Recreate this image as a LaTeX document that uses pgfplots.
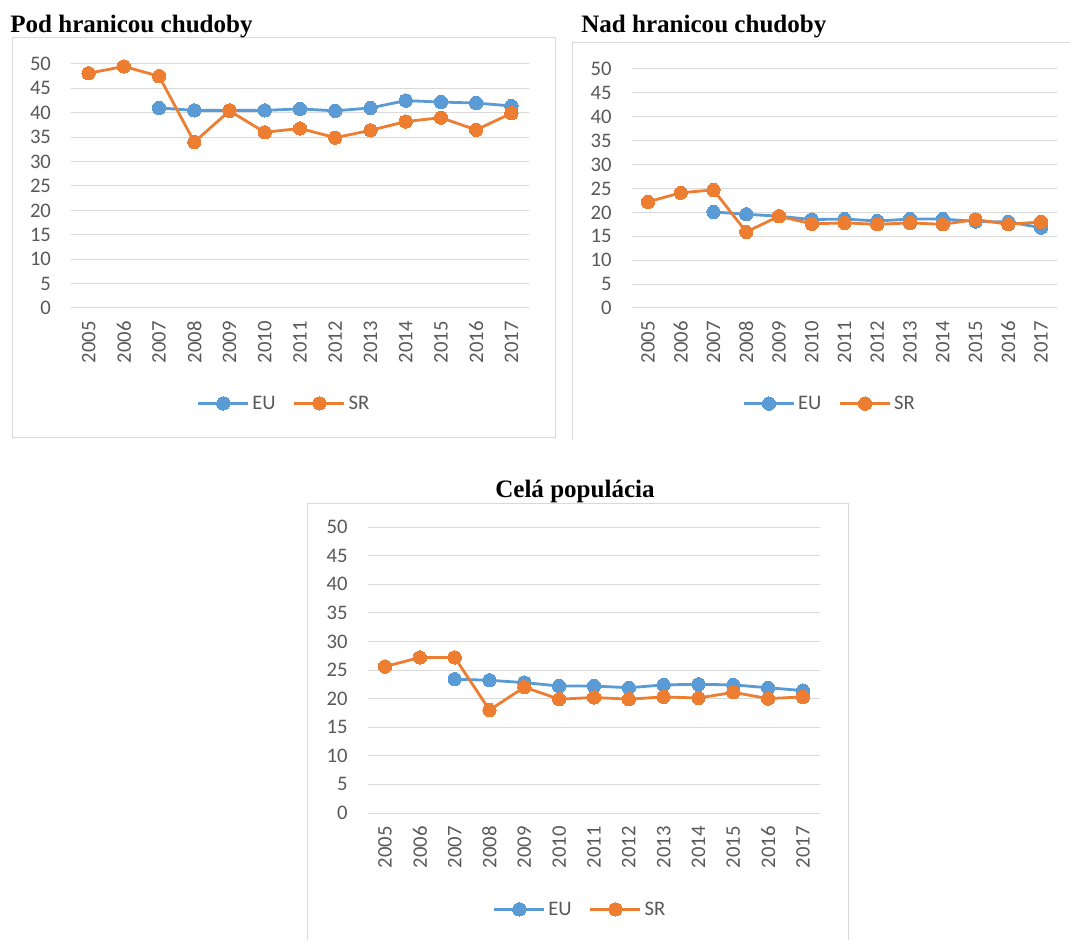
\documentclass[border=0pt]{standalone}
\usepackage{pgfplots}
\usepackage{pgfplotstable}
\pgfplotsset{compat=1.18}
\usepackage{fontspec}
\setmainfont{Carlito}
\newfontfamily\titlefont{Liberation Serif}

\definecolor{euBlue}{HTML}{5B9BD5}
\definecolor{srOrange}{HTML}{ED7D31}
\definecolor{gridGray}{HTML}{D9D9D9}
\definecolor{labelGray}{HTML}{595959}
\definecolor{frameGray}{HTML}{D9D9D9}

% x = index of year (0 = 2005 ... 12 = 2017)
\pgfplotstableread{
x  eu    sr
0  nan   48.1
1  nan   49.5
2  41.0  47.5
3  40.5  34.0
4  40.5  40.4
5  40.5  36.0
6  40.8  36.8
7  40.4  34.9
8  41.0  36.4
9  42.5  38.2
10 42.2  39.0
11 42.0  36.5
12 41.4  39.9
}\podTable

\pgfplotstableread{
x  eu    sr
0  nan   22.2
1  nan   24.1
2  20.1  24.7
3  19.6  15.9
4  19.2  19.2
5  18.5  17.6
6  18.6  17.8
7  18.2  17.5
8  18.6  17.8
9  18.6  17.5
10 18.1  18.5
11 18.0  17.5
12 16.8  18.0
}\nadTable

\pgfplotstableread{
x  eu    sr
0  nan   25.6
1  nan   27.2
2  23.4  27.2
3  23.2  18.0
4  22.8  22.0
5  22.2  19.9
6  22.2  20.2
7  21.9  19.9
8  22.4  20.3
9  22.5  20.1
10 22.4  21.1
11 21.9  20.0
12 21.4  20.3
}\celaTable

\pgfplotsset{
  panel/.style={
    scale only axis,
    clip=false,
    xmin=-0.5, xmax=12.5, ymin=0, ymax=50,
    xtick={0,...,12},
    xticklabels={2005,2006,2007,2008,2009,2010,2011,2012,2013,2014,2015,2016,2017},
    ytick={0,5,...,50},
    axis line style={draw=none},
    major tick length=0pt,
    ymajorgrids,
    grid style={gridGray, line width=0.75pt},
    /pgf/number format/assume math mode=true,
    tick label style={font=\fontsize{15.5}{17}\selectfont, text=labelGray},
    yticklabel style={anchor=east},
    yticklabel shift=11.5pt,
    xticklabel style={rotate=90, anchor=east},
    xticklabel shift=6.5pt,
    legend columns=2,
    legend style={draw=none, fill=none, anchor=center,
      font=\fontsize{15.5}{17}\selectfont, text=labelGray,
      /tikz/every even column/.append style={column sep=11pt}},
    legend image code/.code={
      \draw[mark repeat=2, mark phase=2] plot coordinates {(0pt,0pt) (18.75pt,0pt) (37.5pt,0pt)};
    },
  },
  eu/.style={euBlue, line width=2.1pt, mark=*, mark size=5pt,
    mark options={fill=euBlue, draw=euBlue, line width=0pt}},
  sr/.style={srOrange, line width=2.1pt, mark=*, mark size=5pt,
    mark options={fill=srOrange, draw=srOrange, line width=0pt}},
}

\begin{document}
\begin{tikzpicture}[x=0.75pt, y=0.75pt]
\useasboundingbox (0,0) rectangle (1070,940);
\fill[white] (0,0) rectangle (1070,940);

% chart frames
\draw[frameGray, line width=0.75pt] (12,940-38) rectangle (555,940-438);
\draw[frameGray, line width=0.75pt] (572,940-440) -- (572,940-43) -- (1070,940-43);
\draw[frameGray, line width=0.75pt] (307,0) -- (307,940-503) -- (848,940-503) -- (848,0);

% titles
\node[anchor=base west, inner sep=0pt, font=\titlefont\bfseries\fontsize{18.8}{20}\selectfont]
  at (10,940-33) {Pod hranicou chudoby};
\node[anchor=base west, inner sep=0pt, font=\titlefont\bfseries\fontsize{18.8}{20}\selectfont]
  at (581,940-33) {Nad hranicou chudoby};
\node[anchor=base, inner sep=0pt, font=\titlefont\bfseries\fontsize{18.8}{20}\selectfont]
  at (575,940-497) {Celá populácia};

% plot-area corners
\coordinate (podSW) at (71.0,632);
\coordinate (nadSW) at (631.6,632);
\coordinate (celaSW) at (367.6,127);

% Pod hranicou chudoby
\begin{axis}[panel, at={(podSW)}, anchor=south west,
  width=343.5pt, height=183.0pt,
  legend style={at={(0.466,-0.391)}}]
\addplot[eu] table[x=x, y=eu] {\podTable};
\addplot[sr] table[x=x, y=sr] {\podTable};
\legend{EU, SR}
\end{axis}

% Nad hranicou chudoby
\begin{axis}[panel, at={(nadSW)}, anchor=south west,
  width=319.4pt, height=179.3pt,
  legend style={at={(0.466,-0.40)}}]
\addplot[eu] table[x=x, y=eu] {\nadTable};
\addplot[sr] table[x=x, y=sr] {\nadTable};
\legend{EU, SR}
\end{axis}

% Celá populácia
\begin{axis}[panel, at={(celaSW)}, anchor=south west,
  width=339.6pt, height=214.5pt,
  legend style={at={(0.47,-0.337)}}]
\addplot[eu] table[x=x, y=eu] {\celaTable};
\addplot[sr] table[x=x, y=sr] {\celaTable};
\legend{EU, SR}
\end{axis}
\end{tikzpicture}
\end{document}
